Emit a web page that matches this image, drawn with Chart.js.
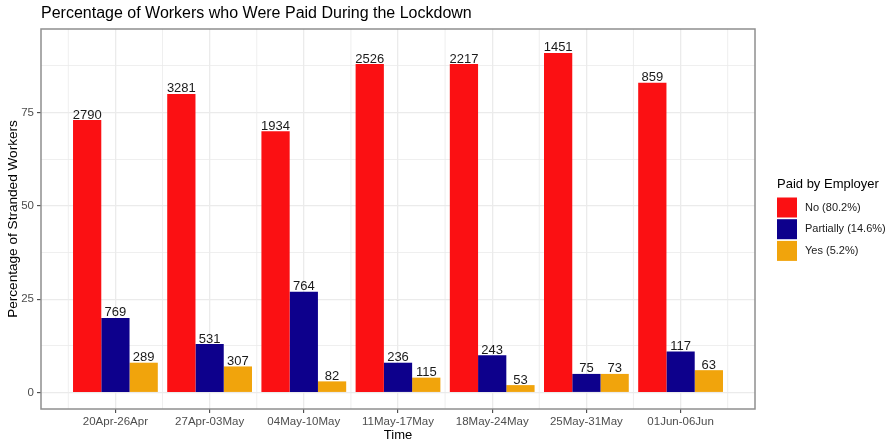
<!DOCTYPE html>
<html>
<head>
<meta charset="utf-8">
<script src="https://cdn.jsdelivr.net/npm/chart.js@4"></script>
<style>
    html, body { margin: 0; padding: 0; background: #fff; }
    #wrap { width: 890px; height: 443px; }
</style>
</head>
<body>
<div id="wrap"><canvas id="paidChart"></canvas></div>
<script>
// data
const weeks = ['20Apr-26Apr', '27Apr-03May', '04May-10May', '11May-17May', '18May-24May', '25May-31May', '01Jun-06Jun'];
const seriesNames = ['No (80.2%)', 'Partially (14.6%)', 'Yes (5.2%)'];
const pctNo = [73, 80, 70, 88, 88, 91, 83];
const pctPartially = [20, 13, 27, 8, 10, 5, 11];
const pctYes = [8, 7, 3, 4, 2, 5, 6];
const countNo = [2790, 3281, 1934, 2526, 2217, 1451, 859];
const countPartially = [769, 531, 764, 236, 243, 75, 117];
const countYes = [289, 307, 82, 115, 53, 73, 63];
const yTicks = [0, 25, 50, 75];

const COLORS = ['#fb1013', '#0d008c', '#f1a40c'];
const FONT = "'Liberation Sans', Arial, sans-serif";
const BORDER = '#8f8f8f';
const GRID = '#ebebeb';

function toPoints(vals) {
    return vals.map((v, i) => ({ x: i, y: v }));
}

// minor vertical grid lines + panel border + title + legend + value labels
const ggPlugin = {
    id: 'ggExtras',
    beforeDatasetsDraw(chart) {
        const { ctx, chartArea, scales } = chart;
        ctx.save();
        ctx.strokeStyle = GRID;
        ctx.lineWidth = 0.8;
        for (let i = -1; i < weeks.length; i++) {
            const px = scales.x.getPixelForValue(i + 0.5);
            if (px < chartArea.left || px > chartArea.right) continue;
            ctx.beginPath();
            ctx.moveTo(px, chartArea.top);
            ctx.lineTo(px, chartArea.bottom);
            ctx.stroke();
        }
        ctx.restore();
    },
    afterDatasetsDraw(chart) {
        const { ctx, chartArea } = chart;
        ctx.save();

        // value labels
        const counts = [countNo, countPartially, countYes];
        ctx.font = '13px ' + FONT;
        ctx.fillStyle = '#1a1a1a';
        ctx.textAlign = 'center';
        ctx.textBaseline = 'alphabetic';
        chart.data.datasets.forEach((ds, di) => {
            const meta = chart.getDatasetMeta(di);
            meta.data.forEach((bar, i) => {
                ctx.fillText(String(counts[di][i]), bar.x, bar.y - 1.5);
            });
        });

        // panel border
        ctx.strokeStyle = BORDER;
        ctx.lineWidth = 1.5;
        ctx.strokeRect(chartArea.left, chartArea.top, chartArea.right - chartArea.left, chartArea.bottom - chartArea.top);

        // title
        ctx.font = '16px ' + FONT;
        ctx.fillStyle = '#000';
        ctx.textAlign = 'left';
        ctx.textBaseline = 'middle';
        ctx.fillText('Percentage of Workers who Were Paid During the Lockdown', chartArea.left, 14);

        // legend
        const lx = 777, ly = 184;
        ctx.font = '13px ' + FONT;
        ctx.fillText('Paid by Employer', lx, ly);
        ctx.font = '11px ' + FONT;
        chart.data.datasets.forEach((ds, di) => {
            const top = 197.5 + di * 21.7;
            ctx.fillStyle = ds.backgroundColor;
            ctx.fillRect(lx, top, 20, 20);
            ctx.fillStyle = '#1a1a1a';
            ctx.fillText(ds.label, 805, top + 10);
        });
        ctx.restore();
    }
};

new Chart(document.getElementById('paidChart'), {
    type: 'bar',
    data: {
        datasets: [
            { label: seriesNames[0], data: toPoints(pctNo), backgroundColor: COLORS[0] },
            { label: seriesNames[1], data: toPoints(pctPartially), backgroundColor: COLORS[1] },
            { label: seriesNames[2], data: toPoints(pctYes), backgroundColor: COLORS[2] }
        ]
    },
    options: {
        responsive: true,
        maintainAspectRatio: false,
        animation: false,
        layout: {
            padding: { top: 29, right: 135, left: 0, bottom: 0 }
        },
        datasets: {
            bar: {
                categoryPercentage: 0.9,
                barPercentage: 1.0,
                borderWidth: 0
            }
        },
        plugins: {
            legend: { display: false },
            tooltip: { enabled: false }
        },
        scales: {
            x: {
                type: 'linear',
                min: -0.79,
                max: 6.79,
                offset: false,
                afterFit: (scale) => { scale.height = 34; },
                ticks: {
                    stepSize: 1,
                    includeBounds: false,
                    autoSkip: false,
                    maxRotation: 0,
                    padding: 2,
                    color: '#4d4d4d',
                    font: { family: FONT, size: 11.5 },
                    callback: (value) => weeks[value] !== undefined ? weeks[value] : ''
                },
                grid: {
                    offset: false,
                    color: GRID,
                    lineWidth: 1.3,
                    tickColor: '#333',
                    tickLength: 4,
                    tickWidth: 1
                },
                border: { display: false },
                title: {
                    display: true,
                    text: 'Time',
                    color: '#000',
                    font: { family: FONT, size: 13 },
                    padding: { top: 0, bottom: 0 }
                }
            },
            y: {
                min: -4.4,
                max: 97.4,
                afterFit: (scale) => { scale.width = 41; },
                ticks: {
                    stepSize: 12.5,
                    includeBounds: false,
                    autoSkip: false,
                    padding: 3,
                    color: '#4d4d4d',
                    font: { family: FONT, size: 11.5 },
                    callback: (value) => yTicks.includes(value) ? String(value) : ''
                },
                grid: {
                    color: GRID,
                    lineWidth: (c) => yTicks.includes(c.tick && c.tick.value) ? 1.3 : 0.8,
                    tickColor: (c) => yTicks.includes(c.tick && c.tick.value) ? '#333' : 'rgba(0,0,0,0)',
                    tickLength: 4,
                    tickWidth: 1
                },
                border: { display: false },
                title: {
                    display: true,
                    text: 'Percentage of Stranded Workers',
                    color: '#000',
                    font: { family: FONT, size: 13.6 },
                    padding: { top: 5, bottom: 0 }
                }
            }
        }
    },
    plugins: [ggPlugin]
});
</script>
</body>
</html>
